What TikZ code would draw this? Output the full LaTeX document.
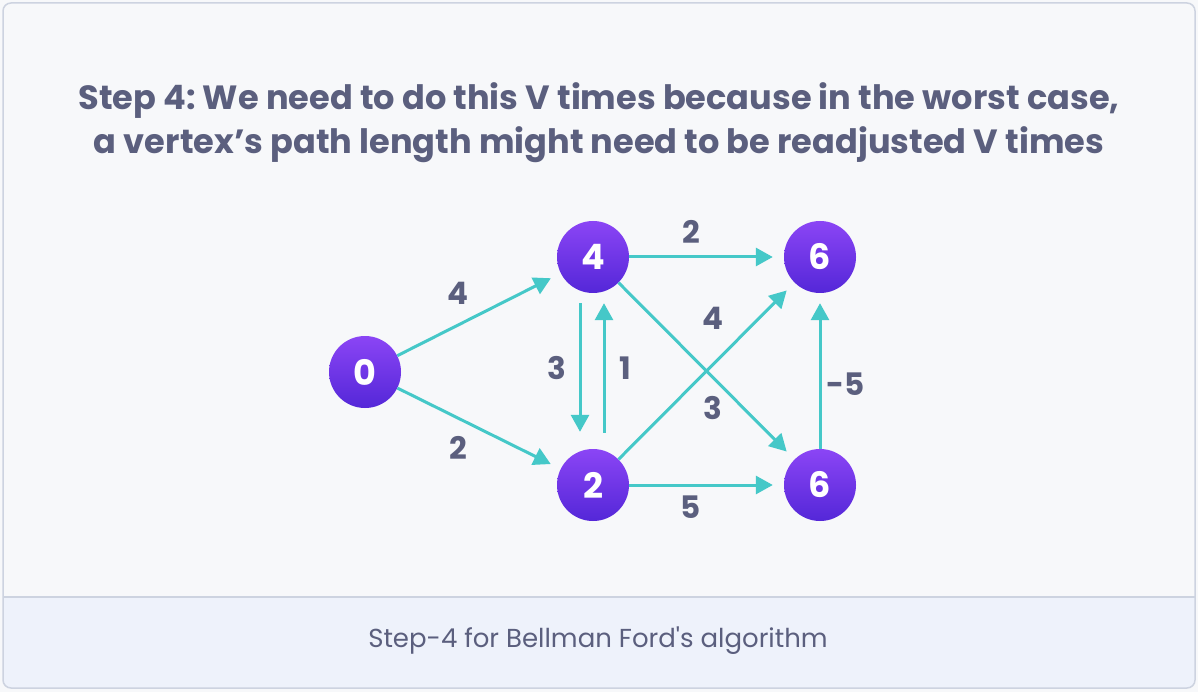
\documentclass[tikz,border=0pt]{standalone}
\usepackage{fontspec}
\setmainfont{Poppins}
\newfontfamily\capfont{Poppins}
\usetikzlibrary{arrows.meta}
\frenchspacing
\definecolor{bgc}{HTML}{F7F8FA}
\definecolor{bordc}{HTML}{CDD3E0}
\definecolor{capc}{HTML}{EEF2FB}
\definecolor{txtc}{HTML}{5B5F7E}
\definecolor{edgec}{HTML}{45C8C8}
\definecolor{ntop}{HTML}{8B45F5}
\definecolor{nbot}{HTML}{5427D8}
\tikzset{
  vert/.style={circle, minimum size=72pt, inner sep=0pt, top color=ntop, bottom color=nbot, text=white, font=\fontsize{35}{38}\selectfont\bfseries},
  edg/.style={draw=edgec, line width=3pt, -{Triangle[length=17pt,width=18pt]}, shorten >=11pt},
  wt/.style={text=txtc, font=\fontsize{31}{34}\selectfont\bfseries},
}
\begin{document}
\begin{tikzpicture}[x=1pt,y=-1pt]
\useasboundingbox (0,0) rectangle (1198,692);
\fill[bgc] (0,0) rectangle (1198,692);
% caption band
\begin{scope}
\clip[rounded corners=8pt] (3,3) rectangle (1195,688);
\fill[capc] (3,597) rectangle (1195,688);
\end{scope}
\draw[bordc, line width=1.5pt] (3,597) -- (1195,597);
\draw[bordc, line width=1.5pt, rounded corners=8pt] (3,3) rectangle (1195,688);
\node[text=txtc, font=\fontsize{33.6}{44}\selectfont\bfseries, align=center] (title) at (599,123) {Step 4: We need to do this V times because in the worst case,\\a vertex’s path length might need to be readjusted V times};
\node[text=txtc, font=\capfont\fontsize{26}{30}\selectfont] (cap) at (598,641) {Step-4 for Bellman Ford's algorithm};
% vertices
\node[vert] (v0) at (365,372) {0};
\node[vert] (v4) at (593,257) {4};
\node[vert] (v2) at (593,485) {2};
\node[vert] (v6t) at (820,257) {6};
\node[vert] (v6b) at (820,485) {6};
% edges
\draw[edg] (v0) -- (v4);
\draw[edg] (v0) -- (v2);
\draw[edg, shorten <=10pt, shorten >=17pt] ([xshift=-13pt]v4.south) -- ([xshift=-13pt]v2.north);
\draw[edg, shorten <=16pt, shorten >=10pt] ([xshift=11pt]v2.north) -- ([xshift=11pt]v4.south);
\draw[edg] (v4) -- (v6t);
\draw[edg] (v2) -- (v6t);
\draw[edg] (v4) -- (v6b);
\draw[edg] (v2) -- (v6b);
\draw[edg, shorten >=10pt] (v6b) -- (v6t);
% weights
\node[wt] (w04) at (458,293) {4};
\node[wt] (w02) at (458,448) {2};
\node[wt] (w42) at (557,368) {3};
\node[wt] (w24) at (625,368) {1};
\node[wt] (w46t) at (691,232) {2};
\node[wt] (w26t) at (713,318) {4};
\node[wt] (w46b) at (713,408) {3};
\node[wt] (w26b) at (691,507) {5};
\node[wt] (w66) at (846,384) {-5};
\end{tikzpicture}
\end{document}
